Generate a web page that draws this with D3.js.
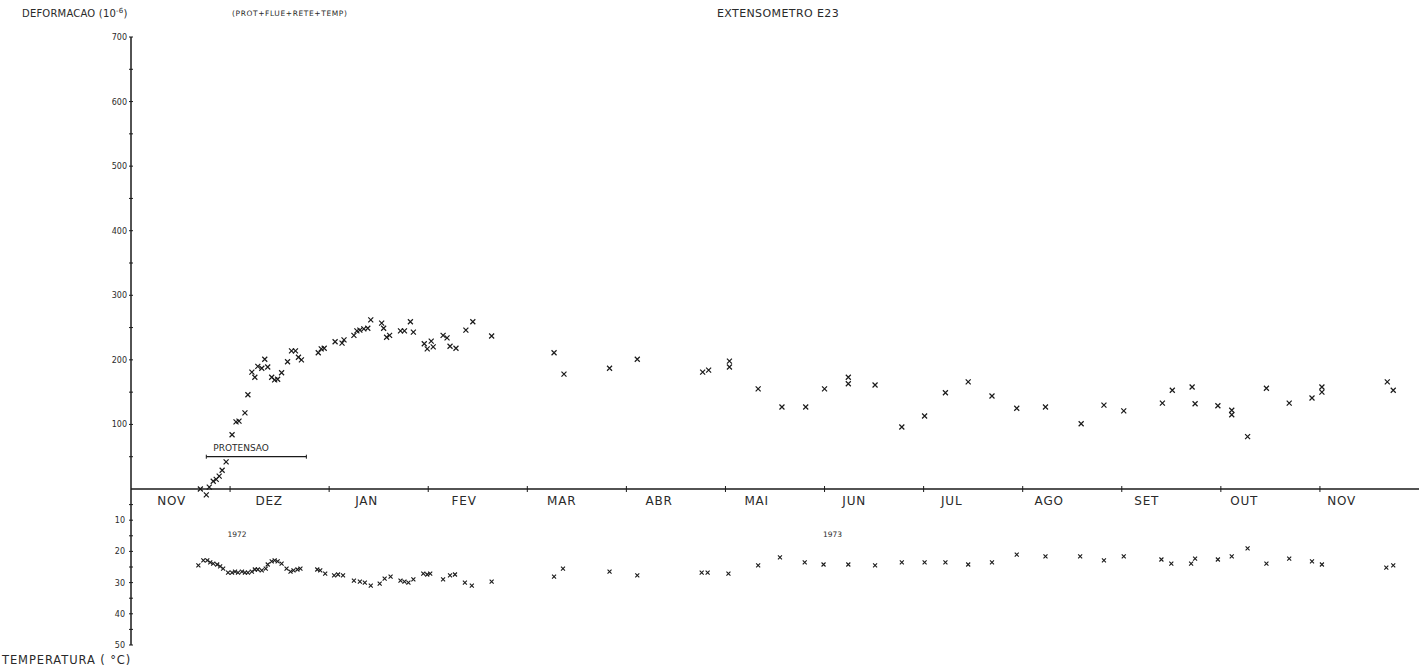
<!DOCTYPE html>
<html>
<head>
<meta charset="utf-8">
<script src="https://cdn.jsdelivr.net/npm/d3@7"></script>
<style>
  html, body { margin: 0; padding: 0; background: #fff; }
  svg { display: block; }
  text { font-family: "DejaVu Sans", sans-serif; fill: #2a2a2a; }
</style>
</head>
<body>
<script>
// ---------------- DATA ----------------
const monthLabels = ["NOV","DEZ","JAN","FEV","MAR","ABR","MAI","JUN","JUL","AGO","SET","OUT","NOV"];
const yearLabels = [["1972", 1.07], ["1973", 7.08]];
const deformTicks = [100, 200, 300, 400, 500, 600, 700];
const tempTicks = [10, 20, 30, 40, 50];

// deformation (10^-6): [month index from 1 Nov 1972, value]
const deformation = [
  [0.70,0],[0.76,-9],[0.79,3],[0.83,12],[0.86,15],[0.89,20],[0.92,29],[0.96,42],
  [1.02,84],[1.06,104],[1.09,105],[1.15,118],[1.18,146],[1.22,181],[1.25,173],
  [1.28,190],[1.32,187],[1.35,201],[1.38,189],[1.42,173],[1.45,169],[1.48,170],
  [1.52,180],[1.58,197],[1.62,214],[1.66,214],[1.69,204],[1.72,200],
  [1.89,211],[1.92,217],[1.95,218],[2.06,228],[2.13,226],[2.15,231],
  [2.25,238],[2.28,245],[2.31,246],[2.35,248],[2.39,249],[2.42,262],
  [2.53,257],[2.55,249],[2.58,235],[2.61,238],[2.72,245],[2.76,245],[2.82,259],[2.85,243],
  [2.96,225],[2.99,217],[3.03,229],[3.05,220],[3.15,238],[3.19,234],[3.22,221],[3.28,218],
  [3.38,246],[3.45,259],[3.64,237],
  [4.27,211],[4.37,178],[4.83,187],[5.11,201],[5.77,181],[5.83,184],[6.04,198],[6.04,189],
  [6.33,155],[6.57,127],[6.81,127],[7.00,155],[7.24,173],[7.24,163],[7.51,161],
  [7.78,96],[8.01,113],[8.22,149],[8.45,166],[8.69,144],[8.94,125],[9.23,127],
  [9.59,101],[9.82,130],[10.02,121],[10.41,133],[10.51,153],[10.71,158],[10.74,132],
  [10.97,129],[11.11,122],[11.11,115],[11.27,81],[11.46,156],[11.69,133],[11.92,141],
  [12.02,158],[12.02,150],[12.68,166],[12.74,153]
];

// temperature (°C): [month index, value]
const temperature = [
  [0.68,24.5],[0.73,22.9],[0.77,22.9],[0.80,23.5],[0.83,23.9],[0.87,24.2],[0.90,24.8],
  [0.93,25.5],[0.98,26.8],[1.02,26.8],[1.05,26.5],[1.08,26.8],[1.12,26.5],[1.15,26.8],
  [1.18,26.8],[1.22,26.5],[1.25,25.8],[1.28,25.8],[1.32,26.1],[1.36,25.5],[1.38,24.2],
  [1.42,23.2],[1.45,22.9],[1.48,23.2],[1.52,23.9],[1.57,25.5],[1.61,26.5],[1.64,26.1],
  [1.68,25.8],[1.71,25.5],[1.88,25.8],[1.91,26.1],[1.96,27.1],[2.05,27.7],[2.09,27.4],
  [2.14,27.7],[2.25,29.4],[2.31,29.7],[2.36,30.0],[2.42,31.0],[2.51,30.3],[2.56,28.7],
  [2.62,28.1],[2.72,29.4],[2.76,29.7],[2.80,30.0],[2.85,29.0],[2.95,27.1],[2.99,27.4],
  [3.02,27.1],[3.15,29.0],[3.22,27.7],[3.27,27.4],[3.37,30.0],[3.44,31.0],[3.64,29.7],
  [4.27,28.1],[4.36,25.5],[4.83,26.5],[5.11,27.7],[5.76,26.8],[5.82,26.8],[6.03,27.1],
  [6.33,24.5],[6.55,21.9],[6.80,23.5],[6.99,24.2],[7.24,24.2],[7.51,24.5],[7.78,23.5],
  [8.01,23.5],[8.22,23.5],[8.45,24.2],[8.69,23.5],[8.94,21.0],[9.23,21.6],[9.58,21.6],
  [9.82,22.9],[10.02,21.6],[10.40,22.6],[10.50,23.9],[10.70,23.9],[10.74,22.3],
  [10.97,22.6],[11.11,21.6],[11.27,19.0],[11.46,23.9],[11.69,22.3],[11.92,23.2],
  [12.02,24.2],[12.67,25.2],[12.74,24.5]
];

const protensao = { label: "PROTENSAO", from: 0.76, to: 1.77, value: 50 };

// ---------------- CHART ----------------
const W = 1420, H = 667;
const svg = d3.select("body").append("svg").attr("width", W).attr("height", H);
svg.append("rect").attr("width", W).attr("height", H).attr("fill", "#fff");

const x = d3.scaleLinear().domain([0, 13]).range([131, 1419]);
const yD = d3.scaleLinear().domain([0, 700]).range([489, 37]);
const yT = d3.scaleLinear().domain([0, 50]).range([489, 645]);
const labelPos = d3.scalePoint().domain(d3.range(monthLabels.length)).range([x(0.41), x(12.22)]);

const ink = "#1a1a1a";

// axes lines
svg.append("line").attr("x1", x(0)).attr("x2", x(0)).attr("y1", yD(700)).attr("y2", yT(50))
  .attr("stroke", ink).attr("stroke-width", 1.5);
svg.append("line").attr("x1", x(0)).attr("x2", x(13)).attr("y1", yD(0)).attr("y2", yD(0))
  .attr("stroke", ink).attr("stroke-width", 1.5);

// deformation ticks (every 50)
d3.range(50, 701, 50).forEach(v => {
  svg.append("line").attr("x1", x(0) - 2).attr("x2", x(0) + 2).attr("y1", yD(v)).attr("y2", yD(v))
    .attr("stroke", ink).attr("stroke-width", 1);
});
svg.selectAll("text.dtick").data(deformTicks).enter().append("text")
  .attr("class", "dtick").attr("x", x(0) - 4).attr("y", d => yD(d) + 3)
  .attr("text-anchor", "end").attr("font-size", 8).text(d => d);

// temperature ticks (every 5)
d3.range(5, 51, 5).forEach(v => {
  svg.append("line").attr("x1", x(0) - 2).attr("x2", x(0) + 2).attr("y1", yT(v)).attr("y2", yT(v))
    .attr("stroke", ink).attr("stroke-width", 1);
});
svg.selectAll("text.ttick").data(tempTicks).enter().append("text")
  .attr("class", "ttick").attr("x", x(0) - 6).attr("y", d => yT(d) + 3)
  .attr("text-anchor", "end").attr("font-size", 8).text(d => d);

// month boundary ticks
d3.range(1, 13).forEach(m => {
  svg.append("line").attr("x1", x(m)).attr("x2", x(m)).attr("y1", yD(0) - 3).attr("y2", yD(0) + 3)
    .attr("stroke", ink).attr("stroke-width", 1);
});

// month labels
svg.selectAll("text.month").data(monthLabels).enter().append("text")
  .attr("class", "month").attr("x", (d, i) => labelPos(i)).attr("y", yD(0) + 16)
  .attr("text-anchor", "middle").attr("font-size", 12).attr("letter-spacing", 0.8).text(d => d);

// year labels
svg.selectAll("text.year").data(yearLabels).enter().append("text")
  .attr("class", "year").attr("x", d => x(d[1])).attr("y", yT(14.5) + 3)
  .attr("text-anchor", "middle").attr("font-size", 7.5).text(d => d[0]);

// markers
function cross(sel, s, sw) {
  sel.append("path")
    .attr("d", `M${-s},${-s}L${s},${s}M${-s},${s}L${s},${-s}`)
    .attr("stroke", ink).attr("stroke-width", sw).attr("fill", "none");
}
const gD = svg.append("g");
deformation.forEach(d => {
  const g = gD.append("g").attr("transform", `translate(${x(d[0])},${yD(d[1])})`);
  cross(g, 2.5, 1.2);
});
const gT = svg.append("g");
temperature.forEach(d => {
  const g = gT.append("g").attr("transform", `translate(${x(d[0])},${yT(d[1])})`);
  cross(g, 2, 1.1);
});

// PROTENSAO bracket
const py = yD(protensao.value);
svg.append("line").attr("x1", x(protensao.from)).attr("x2", x(protensao.to)).attr("y1", py).attr("y2", py)
  .attr("stroke", ink).attr("stroke-width", 1.2);
[protensao.from, protensao.to].forEach(m => {
  svg.append("line").attr("x1", x(m)).attr("x2", x(m)).attr("y1", py - 2).attr("y2", py + 2)
    .attr("stroke", ink).attr("stroke-width", 1);
});
svg.append("text").attr("x", x(protensao.from) + 7).attr("y", py - 6)
  .attr("font-size", 9).text(protensao.label);

// titles
const t1 = svg.append("text").attr("x", 22).attr("y", 17).attr("font-size", 10).attr("letter-spacing", 0.2);
t1.append("tspan").text("DEFORMACAO  (10");
t1.append("tspan").attr("dy", -4).attr("font-size", 7).text("-6");
t1.append("tspan").attr("dy", 4).text(")");
svg.append("text").attr("x", 232).attr("y", 16).attr("font-size", 7.5).attr("letter-spacing", 0.6)
  .text("(PROT+FLUE+RETE+TEMP)");
svg.append("text").attr("x", 778).attr("y", 17).attr("text-anchor", "middle").attr("font-size", 11)
  .attr("letter-spacing", 0.4).text("EXTENSOMETRO E23");
svg.append("text").attr("x", 2).attr("y", 664).attr("font-size", 11.5).attr("letter-spacing", 0.9)
  .text("TEMPERATURA  ( °C)");
</script>
</body>
</html>
